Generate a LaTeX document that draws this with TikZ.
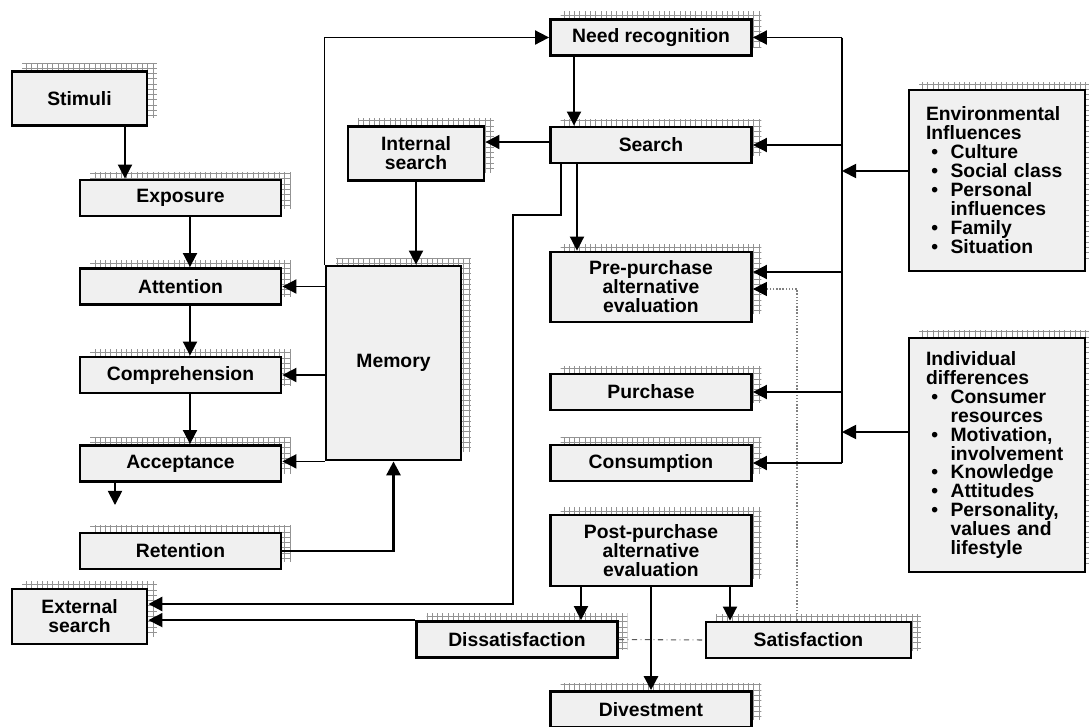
\documentclass[tikz,border=0pt]{standalone}
\usepackage{fontspec}
\setmainfont{Liberation Sans}
\usetikzlibrary{arrows.meta,shadows,patterns}
\newcommand{\bulit}{\makebox[14pt][l]{\hspace*{3pt}\textbullet}}
\newcommand{\bulcont}{\hspace*{14pt}}
\begin{document}
\begin{tikzpicture}[x=0.02cm,y=-0.02cm,
  every node/.style={font={\fontsize{11}{10.8}\selectfont\bfseries}},
  stage/.style={draw,line width=1.6pt,fill=gray!12,align=center,inner sep=2pt,
    general shadow={shadow xshift=0.2cm,shadow yshift=0.16cm,pattern=grid,pattern color=gray!85}},
  wide/.style={stage,minimum width=4.02cm,minimum height=0.72cm},
  narrow/.style={stage,minimum width=2.7cm,minimum height=1.08cm},
  infobox/.style={stage,align=left,text width=2.84cm,inner xsep=0.34cm},
  arr/.style={line width=1pt,-{Triangle[length=8pt,width=8pt]}},
  heavy/.style={arr,line width=1.6pt}]
  \useasboundingbox (0,0) rectangle (1089,727);
  \node[narrow] (stim) at (79.5,98.5) {Stimuli};
  \node[wide] (expo) at (180.5,198) {Exposure};
  \node[wide] (atten) at (180.5,286.5) {Attention};
  \node[wide] (compr) at (180.5,375) {Comprehension};
  \node[wide] (accep) at (180.5,463.5) {Acceptance};
  \node[wide] (reten) at (180.5,551) {Retention};
  \node[narrow,minimum height=1.1cm] (ext) at (79.5,616.5) {External\\search};
  \node[narrow,minimum height=3.88cm] (mem) at (393.5,363) {Memory};
  \node[narrow,minimum width=2.72cm] (intsrch) at (416,153.5) {Internal\\search};
  \node[wide] (need) at (651,37.5) {Need recognition};
  \node[wide] (srch) at (651,145) {Search};
  \node[wide,minimum height=1.4cm] (pre) at (651,287) {Pre-purchase\\alternative\\evaluation};
  \node[wide] (purch) at (651,392) {Purchase};
  \node[wide] (cons) at (651,463) {Consumption};
  \node[wide,minimum height=1.42cm] (post) at (651,550.5) {Post-purchase\\alternative\\evaluation};
  \node[wide] (dissat) at (517,639.5) {Dissatisfaction};
  \node[wide,minimum width=4.1cm] (sat) at (808.5,640) {Satisfaction};
  \node[wide] (divest) at (651,709.5) {Divestment};
  \node[infobox,minimum height=3.62cm] (env) at (997,180.5) {Environmental\\Influences\\\bulit Culture\\\bulit Social class\\\bulit Personal\\\bulcont influences\\\bulit Family\\\bulit Situation};
  \node[infobox,minimum height=4.68cm] (indiv) at (997,455) {Individual\\differences\\\bulit Consumer\\\bulcont resources\\\bulit Motivation,\\\bulcont involvement\\\bulit Knowledge\\\bulit Attitudes\\\bulit Personality,\\\bulcont values and\\\bulcont lifestyle};
  \coordinate (busT) at (842,0 |- need.east);
  \coordinate (busB) at (842,0 |- cons.east);
  \coordinate (accout) at (115,505);
  \draw[arr] (125,0 |- stim.south) -- (125,0 |- expo.north);
  \draw[arr] (190,0 |- expo.south) -- (190,0 |- atten.north);
  \draw[arr] (190,0 |- atten.south) -- (190,0 |- compr.north);
  \draw[arr] (190,0 |- compr.south) -- (190,0 |- accep.north);
  \draw[arr] (accout |- accep.south) -- (accout);
  \draw[arr] (mem.west |- atten.east) -- (atten.east);
  \draw[arr] (mem.west |- compr.east) -- (compr.east);
  \draw[arr] (mem.south west) -- (mem.south west -| accep.east);
  \draw[arr] (mem.north west) -- (mem.north west |- need.west) -- (need.west);
  \draw[heavy] (reten.east) -| (mem.south);
  \draw[arr] (intsrch.south) -- (intsrch.south |- mem.north);
  \draw[arr] (574,0 |- need.south) -- (574,0 |- srch.north);
  \draw[arr] (srch.west |- 0,142) -- (intsrch.east |- 0,142);
  \draw[arr] (577,0 |- srch.south) -- (577,0 |- pre.north);
  \draw[heavy] (561,0 |- srch.south) -- (561,215) -- (513,215) -- (513,604) -- (ext.east |- 0,604);
  \draw[arr] (dissat.north west) -- (dissat.north west -| ext.east);
  \draw[arr] (581,0 |- post.south) -- (581,0 |- dissat.north);
  \draw[heavy] (post.south) -- (divest.north);
  \draw[arr] (730,0 |- post.south) -- (730,0 |- sat.north);
  \draw[dashdotted,gray!70!black,line width=0.6pt] (dissat.east) -- (sat.west);
  \draw[densely dotted,gray,line width=0.8pt,-{Triangle[length=8pt,width=8pt,color=black]}]
    (797,0 |- sat.north) -- (797,289) -- (pre.east |- 0,289);
  \draw[line width=1pt] (busT) -- (busB);
  \draw[arr] (busT) -- (need.east);
  \draw[arr] (busT |- srch.east) -- (srch.east);
  \draw[arr] (busT |- 0,272) -- (pre.east |- 0,272);
  \draw[arr] (busT |- purch.east) -- (purch.east);
  \draw[arr] (busB) -- (cons.east);
  \draw[arr] (env.west |- 0,171) -- (busT |- 0,171);
  \draw[arr] (indiv.west |- 0,432) -- (busT |- 0,432);
\end{tikzpicture}
\end{document}
